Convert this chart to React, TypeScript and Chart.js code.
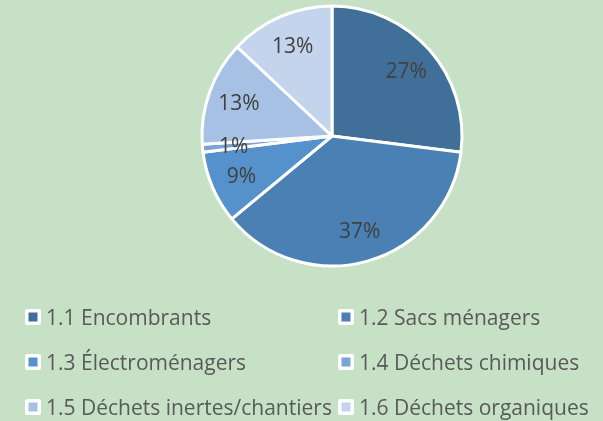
import React, { useEffect, useRef } from "react";
import { Chart, registerables } from "chart.js";

Chart.register(...registerables);

const categories = [
  "1.1 Encombrants",
  "1.2 Sacs ménagers",
  "1.3 Électroménagers",
  "1.4 Déchets chimiques",
  "1.5 Déchets inertes/chantiers",
  "1.6 Déchets organiques",
];
const values = [27, 37, 9, 1, 13, 13];
const colors = ["#40709A", "#4A80B4", "#5592CB", "#7AA4D7", "#A6C1E3", "#C3D4EC"];

const BG = "#C6E1C5";
const FONT = "'Open Sans', sans-serif";

const pctLabels = {
  id: "pctLabels",
  afterDatasetsDraw(chart: any) {
    const ctx = chart.ctx;
    const meta = chart.getDatasetMeta(0);
    const data = chart.data.datasets[0].data as number[];
    const total = data.reduce((a, b) => a + b, 0);
    ctx.save();
    ctx.font = `21px ${FONT}`;
    ctx.fillStyle = "#404040";
    ctx.textAlign = "center";
    ctx.textBaseline = "alphabetic";
    meta.data.forEach((arc: any, i: number) => {
      const { x, y, startAngle, endAngle, outerRadius } = arc.getProps(
        ["x", "y", "startAngle", "endAngle", "outerRadius"],
        true
      );
      const mid = (startAngle + endAngle) / 2;
      const r = outerRadius * 0.76;
      const pct = Math.round((data[i] / total) * 100);
      ctx.fillText(pct + "%", x + Math.cos(mid) * r, y + Math.sin(mid) * r + 7.5);
    });
    ctx.restore();
  },
};

const gridLegend = {
  id: "gridLegend",
  afterDraw(chart: any) {
    const ctx = chart.ctx;
    const labels = chart.data.labels as string[];
    const bg = chart.data.datasets[0].backgroundColor as string[];
    const colX = [25, 338];
    const rowY = [317, 362, 407];
    ctx.save();
    ctx.font = `21px ${FONT}`;
    ctx.textBaseline = "alphabetic";
    ctx.textAlign = "left";
    labels.forEach((lab, i) => {
      const cx = colX[i % 2];
      const cy = rowY[Math.floor(i / 2)];
      ctx.fillStyle = "#FFFFFF";
      ctx.beginPath();
      if ((ctx as any).roundRect) (ctx as any).roundRect(cx, cy - 8, 16, 16, 2);
      else ctx.rect(cx, cy - 8, 16, 16);
      ctx.fill();
      ctx.fillStyle = bg[i];
      ctx.fillRect(cx + 3.5, cy - 4.5, 9, 9);
      ctx.fillStyle = "#595959";
      ctx.fillText(lab, cx + 21, cy + 7.5);
    });
    ctx.restore();
  },
};

export default function App() {
  const ref = useRef<HTMLCanvasElement>(null);
  useEffect(() => {
    document.body.style.margin = "0";
    document.body.style.background = BG;
    const chart = new Chart(ref.current as HTMLCanvasElement, {
      type: "pie",
      data: {
        labels: categories,
        datasets: [
          {
            data: values,
            backgroundColor: colors,
            borderColor: "#FFFFFF",
            borderWidth: 3,
          },
        ],
      },
      options: {
        responsive: false,
        animation: false,
        layout: { padding: { left: 200.5, right: 139.5, top: 4.5, bottom: 153.5 } },
        plugins: {
          legend: { display: false },
          tooltip: { enabled: false },
        },
      },
      plugins: [pctLabels, gridLegend],
    });
    return () => chart.destroy();
  }, []);
  return (
    <div style={{ width: 603, height: 421, background: BG }}>
      <canvas ref={ref} width={603} height={421} style={{ display: "block" }} />
    </div>
  );
}
